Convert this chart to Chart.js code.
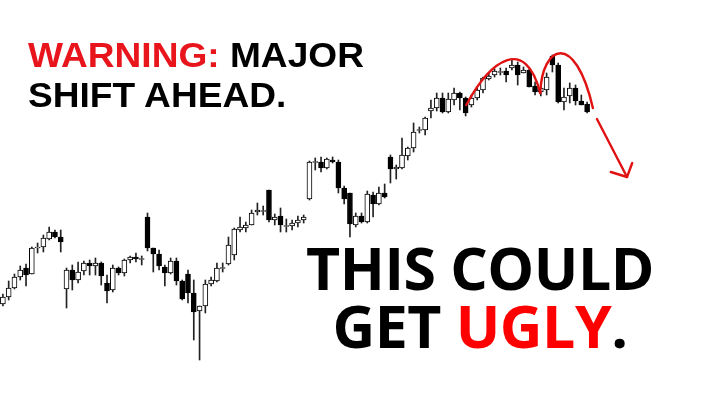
<!DOCTYPE html>
<html>
<head>
<meta charset="utf-8">
<script src="https://cdn.jsdelivr.net/npm/chart.js@4/dist/chart.umd.min.js"></script>
<style>
  html, body { margin: 0; padding: 0; background: #fff; }
  #wrap { position: relative; width: 720px; height: 404px; overflow: hidden; }
  #chart { position: absolute; left: 0; top: 0; }
  .head {
    position: absolute; left: 28px; top: 35px;
    font: bold 35px "Liberation Sans", Arial, sans-serif; line-height: 40px;
    color: #000; white-space: nowrap;
    transform: scaleX(1.06); transform-origin: 0 0;
  }
  .head .red { color: #e8151d; }
  .big {
    position: absolute; left: 300px; top: 238px; width: 360px;
    font: bold 59px "Open Sans", sans-serif; line-height: 58px;
    text-align: center; color: #000; white-space: nowrap; letter-spacing: -0.5px;
  }
  .big .red { color: #f00; }
</style>
</head>
<body>
<div id="wrap">
  <canvas id="chart" width="720" height="404"></canvas>
  <div class="head"><span class="red">WARNING:</span> MAJOR<br>SHIFT AHEAD.</div>
  <div class="big">THIS COULD<br>GET <span class="red">UGLY</span>.</div>
</div>
<script>
// price series (arbitrary units)
var open  = [96,103,112,123,132,126,152,153,161,168,163,111,130,120,129,137,134,137,117,110,
             132,127,140,143,141,183,152,146,133,127,139,119,126,107,89,94,116,119,132,136,
             145,170,172,175,188,189,210,180,184,174,174,177,180,201,238,238,232,240,238,212,
             207,175,184,178,205,196,207,243,231,232,244,252,270,270,289,292,302,288,300,307,
             302,295,302,310,321,325,328,329,332,335,327,330,314,308,310,344,335,298,304,312,
             299,296];
var high  = [106,119,126,134,136,153,157,165,173,170,170,132,135,138,139,140,142,138,125,135,
             133,141,144,147,144,187,152,150,135,142,142,120,130,120,94,120,123,137,137,163,
             172,183,178,190,197,194,210,186,192,181,180,184,185,239,242,243,242,243,240,214,
             207,187,187,209,208,213,216,245,235,262,253,277,273,283,300,307,307,307,312,308,
             303,305,312,323,327,331,332,332,340,338,333,331,318,315,327,345,337,312,317,315,
             305,298];
var low   = [94,100,111,120,114,126,147,148,160,162,148,92,110,117,125,125,125,115,97,108,
             125,124,137,138,135,149,128,130,114,126,115,100,97,60,40,87,114,118,128,135,
             140,168,168,175,185,185,178,175,168,168,170,173,177,200,230,228,231,237,207,196,
             163,173,177,177,183,195,202,217,221,231,240,248,267,265,282,289,287,287,295,290,
             284,293,300,307,320,323,325,318,330,315,327,313,305,304,305,328,297,290,297,295,
             295,287];
var close = [103,112,123,130,125,152,153,162,168,163,158,130,120,128,137,134,137,124,109,132,
             127,140,143,141,141,152,146,134,127,139,119,101,107,88,94,116,120,132,132,155,
             171,173,175,187,190,189,180,183,175,174,177,180,183,238,238,232,241,238,212,201,
             176,184,178,206,196,207,203,231,233,245,252,268,270,282,292,302,288,301,307,302,
             287,302,310,322,324,329,328,325,335,325,330,313,308,312,323,335,298,303,312,299,
             295,288];
var labels = open.map(function (v, i) { return i; });

// red pattern sketch, in (candle index, price) units: two humps then a falling arrow
var hump1 = [[80.1, 295], [84.3, 340], [90.3, 365], [92.9, 307]];
var hump2 = [[92.9, 307], [93.2, 355], [98.9, 370], [102.0, 292]];
var arrowLine = [[102.7, 281], [107.9, 223]];
var arrowHead = [[105.1, 228], [107.9, 223], [108.8, 237]];

var wicks = labels.map(function (l, i) { return [low[i], high[i]]; });
var bodies = labels.map(function (l, i) {
    var o = open[i], c = close[i];
    // doji: give it a hairline body so it still shows
    if (Math.abs(o - c) < 1) return [o - 0.5, o + 0.5];
    return [o, c];
});
var bodyColors = labels.map(function (l, i) { return close[i] >= open[i] ? '#ffffff' : '#000000'; });

var sketch = {
    id: 'sketch',
    afterDatasetsDraw: function (chart) {
        var x = chart.scales.x, y = chart.scales.y, ctx = chart.ctx;
        function px(p) { return [x.getPixelForValue(p[0]), y.getPixelForValue(p[1])]; }
        ctx.save();
        ctx.strokeStyle = '#e01212';
        ctx.lineWidth = 2.4;
        ctx.lineCap = 'round';
        ctx.lineJoin = 'round';
        [hump1, hump2].forEach(function (h) {
            var p = h.map(px);
            ctx.beginPath();
            ctx.moveTo(p[0][0], p[0][1]);
            ctx.bezierCurveTo(p[1][0], p[1][1], p[2][0], p[2][1], p[3][0], p[3][1]);
            ctx.stroke();
        });
        [arrowLine, arrowHead].forEach(function (l) {
            var p = l.map(px);
            ctx.beginPath();
            ctx.moveTo(p[0][0], p[0][1]);
            for (var k = 1; k < p.length; k++) ctx.lineTo(p[k][0], p[k][1]);
            ctx.stroke();
        });
        ctx.restore();
    }
};

new Chart(document.getElementById('chart').getContext('2d'), {
    type: 'bar',
    data: {
        labels: labels,
        datasets: [
            {   // bodies first so they sit on top of the wicks
                data: bodies,
                backgroundColor: bodyColors,
                borderColor: '#000',
                borderWidth: 1,
                borderSkipped: false,
                barThickness: 5,
                grouped: false
            },
            {
                data: wicks,
                backgroundColor: '#222',
                borderWidth: 0,
                barThickness: 1,
                grouped: false
            }
        ]
    },
    options: {
        responsive: false,
        animation: false,
        layout: { padding: { left: 0, right: 130, top: 0, bottom: 0 } },
        plugins: { legend: { display: false }, tooltip: { enabled: false } },
        scales: {
            x: { display: false, offset: true },
            y: { display: false, min: -4, max: 400 }
        }
    },
    plugins: [sketch]
});
</script>
</body>
</html>
